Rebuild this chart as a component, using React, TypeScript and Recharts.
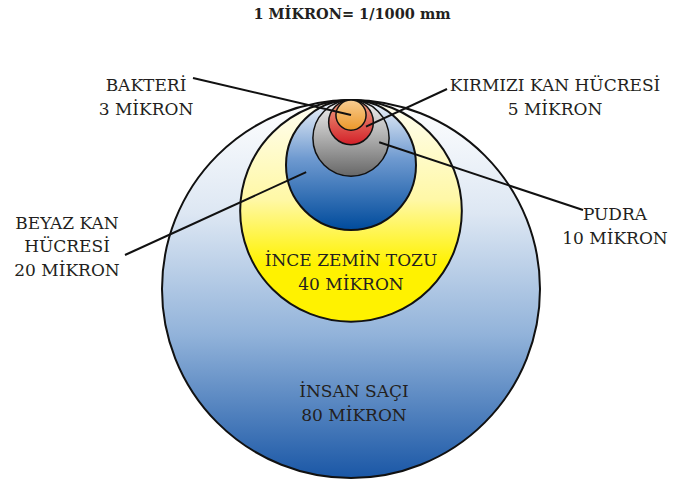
import React from 'react';
import { ScatterChart, Scatter, XAxis, YAxis, ZAxis } from 'recharts';

// particles, largest first so the small ones sit on top
const names = ['İNSAN SAÇI', 'İNCE ZEMİN TOZU', 'BEYAZ KAN\nHÜCRESİ', 'PUDRA', 'KIRMIZI KAN HÜCRESİ', 'BAKTERİ'];
const microns = [80, 40, 20, 10, 5, 3];
const unitLabel = 'MİKRON';
const title = '1 MİKRON= 1/1000 mm';

// area grows with microns^1.54, so the drawing keeps the small ones visible
const SIZE_EXP = 1.54;
const MAX_R = 189;

const data = names.map((name, i) => ({
  name,
  microns: microns[i],
  x: 0,
  y: 0,
  z: Math.pow(microns[i], SIZE_EXP),
}));
const maxZ = Math.max(...data.map((d) => d.z));

const FONT = '"DejaVu Serif", serif';

// gradient stops (top -> bottom) for each circle
const fills: Record<string, [number, string][]> = {
  'İNSAN SAÇI': [[0, '#ffffff'], [0.3, '#dde7f3'], [0.62, '#92b3da'], [1, '#1a57a6']],
  'İNCE ZEMİN TOZU': [[0, '#fffef4'], [0.45, '#fff8a6'], [0.74, '#fff200'], [1, '#fff200']],
  'BEYAZ KAN\nHÜCRESİ': [[0, '#f2f6fb'], [0.45, '#6f9ad0'], [1, '#004b9c']],
  'PUDRA': [[0, '#f4f4f4'], [1, '#676767']],
  'KIRMIZI KAN HÜCRESİ': [[0, '#f0a382'], [1, '#d31f28']],
  'BAKTERİ': [[0, '#f8cd92'], [1, '#ec982a']],
};

// label placement: text centre (page px), optional leader start and end point
// (end given relative to the circle centre, in radii)
const labels: Record<string, { x: number; y: number; from?: [number, number]; to?: [number, number] }> = {
  'İNSAN SAÇI': { x: 354, y: 391 },
  'İNCE ZEMİN TOZU': { x: 351, y: 260 },
  'BEYAZ KAN\nHÜCRESİ': { x: 67, y: 222.5, from: [125, 255], to: [-0.69, 0.11] },
  'PUDRA': { x: 615, y: 214, from: [583, 210], to: [0.74, 0.11] },
  'KIRMIZI KAN HÜCRESİ': { x: 555, y: 85, from: [447, 89], to: [0.67, 0.19] },
  'BAKTERİ': { x: 146, y: 85, from: [193, 78], to: [0, 0] },
};

const Bubble = (props: any) => {
  const { cx, cy, payload, size, width } = props;
  const r = width ? width / 2 : Math.sqrt(size / Math.PI);
  const name: string = payload.name;
  const id = 'g' + microns.indexOf(payload.microns);
  const lab = labels[name];
  const ccy = cy + r;
  const lines = [...name.split('\n'), `${payload.microns} ${unitLabel}`];
  return (
    <g>
      <defs>
        <linearGradient id={id} x1="0" y1="0" x2="0" y2="1">
          {fills[name].map(([o, c]) => (
            <stop key={o} offset={o} stopColor={c} />
          ))}
        </linearGradient>
      </defs>
      <circle cx={cx} cy={ccy} r={r} fill={`url(#${id})`} stroke="#111" strokeWidth={r > 60 ? 2 : 1.5} />
      {lab.from && lab.to && (
        <line
          x1={lab.from[0]}
          y1={lab.from[1]}
          x2={cx + lab.to[0] * r}
          y2={ccy + lab.to[1] * r}
          stroke="#111"
          strokeWidth={2}
        />
      )}
      <text x={lab.x} y={lab.y} textAnchor="middle" dominantBaseline="central" fontFamily={FONT} fontSize={17} fill="#231f20">
        {lines.map((t, i) => (
          <tspan key={i} x={lab.x} y={lab.y + i * 23.5}>
            {t}
          </tspan>
        ))}
      </text>
    </g>
  );
};

export default function App() {
  return (
    <div style={{ position: 'absolute', left: 0, top: 0, width: 683, height: 483, background: '#fff' }}>
      <div
        style={{
          position: 'absolute',
          left: 0,
          top: 5,
          width: 704,
          textAlign: 'center',
          fontFamily: FONT,
          fontWeight: 'bold',
          fontSize: 14.5,
          color: '#231f20',
        }}
      >
        {title}
      </div>
      <ScatterChart width={683} height={483} margin={{ top: 100, right: 0, bottom: 0, left: 19 }}>
        <XAxis type="number" dataKey="x" domain={[-1, 1]} hide />
        <YAxis type="number" dataKey="y" domain={[-1, 0]} hide />
        <ZAxis type="number" dataKey="z" domain={[0, maxZ]} range={[0, Math.PI * MAX_R * MAX_R]} />
        <Scatter data={data} shape={Bubble} isAnimationActive={false} />
      </ScatterChart>
    </div>
  );
}
